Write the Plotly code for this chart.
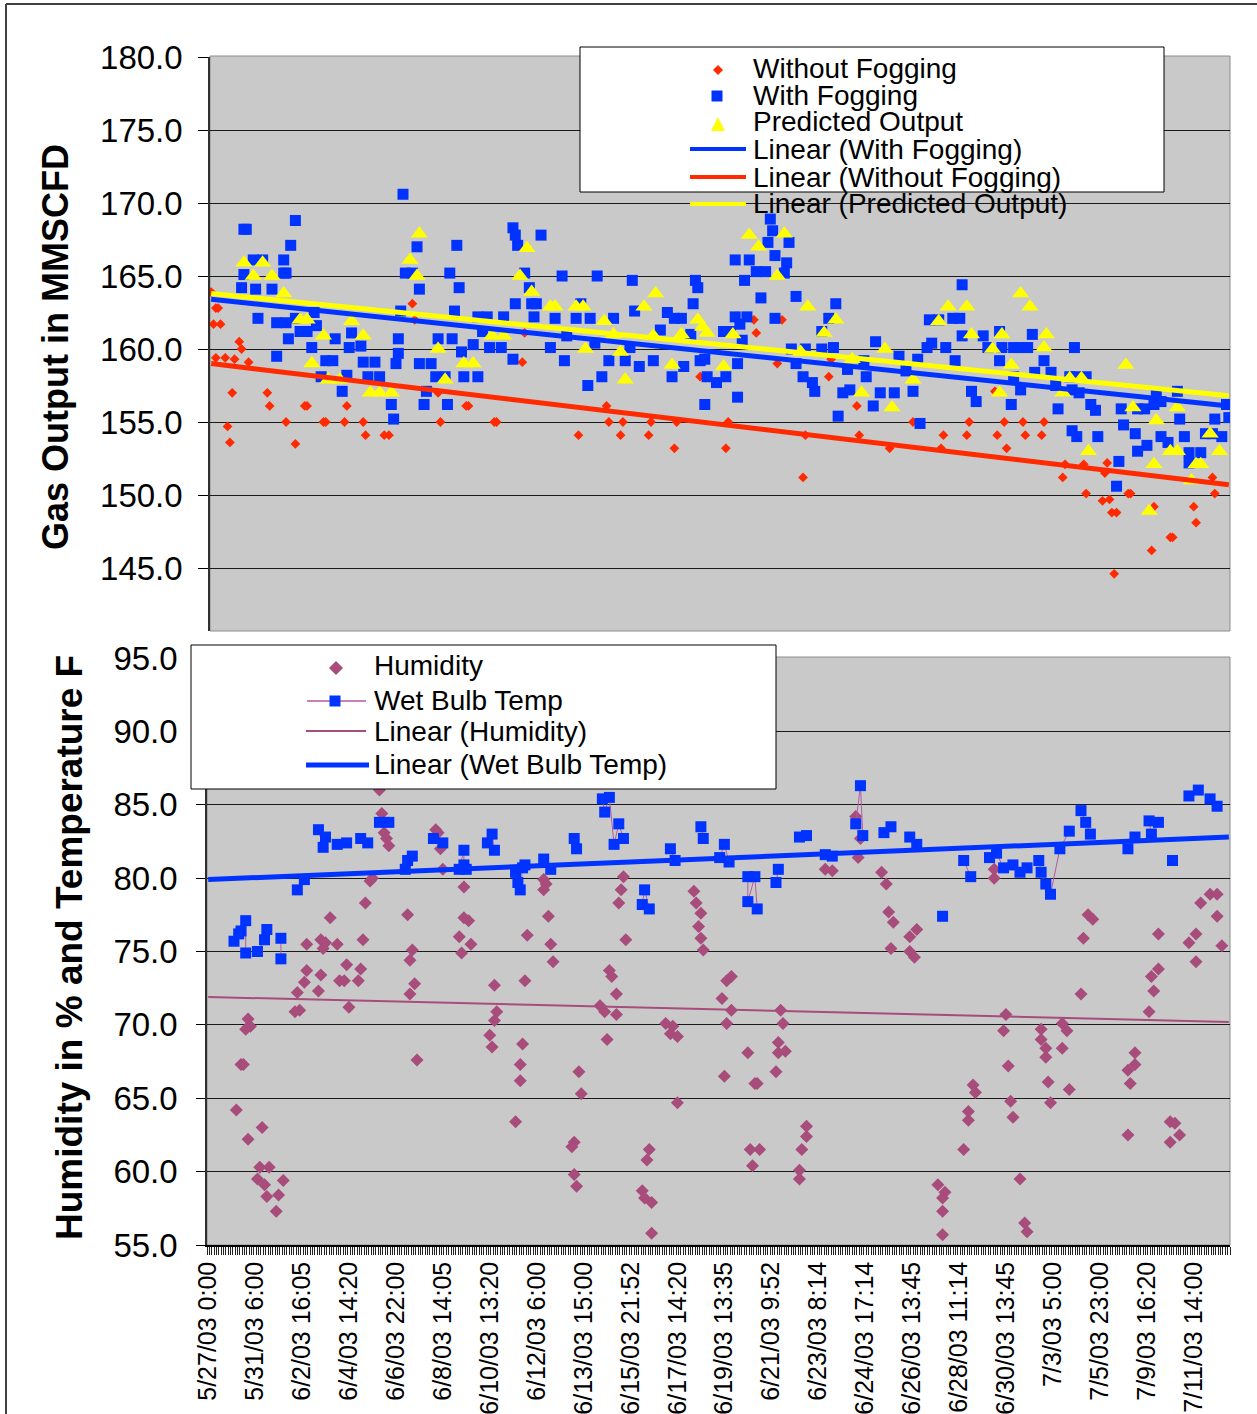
import plotly.graph_objects as go

W, H = 1257, 1414
FONT = "Liberation Sans, Arial, sans-serif"

# ---------------- data (category index, value) ----------------
x_labels = ["5/27/03 0:00", "5/31/03 6:00", "6/2/03 16:05", "6/4/03 14:20", "6/6/03 22:00",
            "6/8/03 14:05", "6/10/03 13:20", "6/12/03 6:00", "6/13/03 15:00", "6/15/03 21:52",
            "6/17/03 14:20", "6/19/03 13:35", "6/21/03 9:52", "6/23/03 8:14", "6/24/03 17:14",
            "6/26/03 13:45", "6/28/03 11:14", "6/30/03 13:45", "7/3/03 5:00", "7/5/03 23:00",
            "7/9/03 16:20", "7/11/03 14:00"]
n_categories = 436
label_step = 20

without_fogging = [
    (0, 163.9), (1, 161.7), (2, 162.8), (3, 162.8), (4, 161.7), (2, 159.4), (6, 159.4), (10, 159.3),
    (12, 160.5), (13, 160.0), (16, 159.1), (9, 157.0), (24, 157.0), (25, 156.1), (7, 154.7), (8, 153.6),
    (32, 155.0), (36, 153.5), (40, 156.1), (41, 156.1), (48, 155.0), (49, 155.0), (57, 155.0), (58, 156.1),
    (65, 155.0), (66, 154.1), (74, 154.1), (76, 154.1), (86, 163.1), (87, 162.0), (97, 157.0), (98, 155.0),
    (109, 156.1), (110, 156.1), (121, 155.0), (122, 155.0), (133, 159.1), (134, 161.1), (157, 154.1),
    (169, 156.1), (170, 155.0), (176, 155.0), (175, 154.1), (187, 154.1), (188, 155.0), (198, 153.2),
    (199, 155.0), (209, 158.1), (232, 162.0), (233, 161.1), (244, 162.0), (242, 159.0), (221, 155.0),
    (220, 153.2), (253, 151.2), (254, 154.1), (264, 158.1), (265, 159.3), (276, 156.1), (277, 154.1),
    (290, 153.2), (300, 155.0), (313, 154.1), (312, 153.2), (323, 154.1), (324, 155.0), (335, 157.1),
    (336, 154.1), (340, 153.2), (339, 155.0), (347, 155.0), (348, 154.1), (355, 154.1), (356, 155.0),
    (364, 151.2), (365, 152.1), (373, 152.1), (374, 150.1), (381, 149.6), (384, 149.7), (383, 152.2),
    (382, 151.5), (385, 148.8), (387, 148.8), (386, 144.6), (392, 150.1), (393, 150.1), (402, 146.2),
    (403, 149.2), (410, 147.1), (411, 147.1), (420, 149.2), (421, 148.1), (428, 151.2), (429, 150.1)]

with_fogging = [
    (82, 170.6), (14, 168.2), (15, 168.2), (36, 168.8), (34, 167.1), (31, 166.1), (18, 166.1), (22, 166.1),
    (14, 165.1), (31, 165.2), (32, 165.2), (13, 164.2), (19, 164.1), (26, 164.1), (20, 162.1), (28, 161.8),
    (32, 161.8), (36, 162.1), (44, 162.5), (33, 160.7), (38, 161.2), (41, 161.2), (45, 161.6), (43, 160.1),
    (28, 159.5), (53, 160.7), (60, 161.1), (59, 160.1), (64, 160.2), (49, 159.2), (52, 159.2), (47, 158.1),
    (58, 158.2), (56, 157.1), (65, 159.1), (70, 159.1), (67, 158.1), (72, 158.1), (77, 156.2), (78, 155.2),
    (80, 159.7), (79, 159.0), (80, 160.7), (81, 162.6), (83, 165.2), (86, 165.2), (88, 167.0), (89, 164.1),
    (97, 160.7), (89, 159.0), (94, 159.0), (96, 158.1), (100, 158.1), (92, 157.1), (91, 156.2), (101, 156.2),
    (102, 165.2), (106, 164.2), (105, 167.1), (104, 162.6), (103, 160.7), (107, 159.8), (108, 158.1),
    (114, 158.1), (112, 160.3), (114, 162.2), (118, 162.2), (116, 161.2), (119, 160.1), (124, 160.1),
    (125, 162.2), (129, 168.3), (130, 167.8), (131, 167.1), (141, 167.8), (134, 165.2), (136, 164.2),
    (130, 163.1), (137, 163.1), (139, 163.1), (138, 162.2), (129, 159.3), (145, 160.1), (147, 162.1),
    (150, 165.0), (151, 159.2), (158, 163.1), (156, 162.1), (162, 162.1), (152, 160.9), (164, 160.4),
    (165, 165.0), (172, 162.1), (170, 159.2), (167, 158.1), (161, 157.5), (181, 162.6), (180, 164.7),
    (179, 160.1), (177, 159.2), (183, 158.8), (189, 159.2), (192, 161.3), (195, 162.5), (198, 162.1),
    (201, 162.1), (197, 158.1), (202, 158.8), (205, 161.0), (207, 164.7), (208, 164.2), (206, 163.1),
    (209, 159.2), (239, 168.9), (240, 168.1), (238, 167.3), (247, 167.3), (224, 166.1), (230, 166.1),
    (241, 166.4), (246, 165.9), (233, 165.3), (237, 165.3), (245, 165.2), (228, 164.7), (235, 163.5),
    (250, 163.6), (267, 163.1), (241, 162.1), (224, 162.2), (229, 162.2), (226, 161.7), (222, 161.2),
    (227, 160.6), (211, 159.3), (212, 158.1), (216, 157.7), (219, 161.2), (220, 158.1), (225, 159.0),
    (211, 156.2), (225, 156.7), (248, 160.0), (254, 160.0), (261, 160.0), (264, 162.1), (266, 160.1),
    (261, 161.2), (250, 159.0), (253, 158.1), (257, 157.7), (258, 157.1), (268, 155.4), (270, 157.0),
    (273, 157.2), (272, 158.6), (279, 159.2), (280, 158.1), (283, 156.1), (284, 160.5), (286, 157.0),
    (292, 157.0), (294, 159.5), (297, 158.5), (300, 157.1), (303, 154.9), (306, 160.1), (308, 160.4),
    (302, 159.3), (307, 162.0), (311, 162.0), (317, 162.1), (320, 162.1), (314, 160.1), (318, 159.2),
    (321, 160.9), (321, 164.4), (325, 157.1), (327, 156.4), (330, 160.9), (332, 160.1), (337, 161.2),
    (338, 160.1), (343, 160.1), (337, 159.2), (343, 158.1), (346, 157.2), (342, 156.2), (346, 160.1),
    (349, 160.1), (351, 161.0), (356, 159.2), (352, 158.4), (359, 158.4), (361, 157.5), (362, 155.9),
    (367, 158.1), (370, 158.1), (374, 158.1), (369, 160.1), (368, 157.2), (371, 157.0), (368, 154.4),
    (370, 154.0), (376, 156.2), (378, 155.8), (379, 154.0), (389, 155.9), (396, 155.9), (399, 155.9),
    (390, 154.8), (395, 154.2), (388, 152.3), (387, 150.6), (396, 153.0), (400, 153.4), (403, 156.2),
    (406, 156.4), (404, 157.0), (406, 154.0), (409, 153.6), (413, 157.1), (414, 155.2), (416, 154.0),
    (418, 152.9), (418, 152.2), (423, 152.9), (425, 154.2), (428, 154.2), (429, 155.2), (435, 155.3),
    (432, 154.0), (434, 156.2)]

predicted_output = [
    (14, 165.9), (22, 165.9), (18, 165.0), (26, 165.0), (31, 163.8), (38, 162.0), (41, 162.0), (48, 160.9),
    (43, 159.0), (60, 161.9), (65, 160.9), (50, 157.9), (55, 157.9), (68, 157.0), (72, 157.0), (77, 157.0),
    (89, 167.9), (85, 166.1), (88, 165.0), (97, 160.0), (100, 157.9), (108, 159.0), (112, 159.0),
    (120, 160.9), (125, 160.9), (135, 166.9), (132, 165.0), (137, 163.9), (145, 162.9), (147, 162.9),
    (156, 162.9), (159, 162.9), (160, 160.0), (168, 161.9), (172, 161.0), (175, 159.8), (177, 157.9),
    (185, 162.9), (190, 163.8), (189, 160.9), (197, 158.9), (201, 161.0), (208, 162.0), (230, 167.8),
    (245, 167.9), (234, 167.0), (242, 165.0), (255, 162.9), (210, 161.5), (212, 161.1), (223, 161.0),
    (219, 158.8), (267, 162.0), (262, 161.1), (252, 159.8), (274, 159.3), (278, 157.0), (288, 160.0),
    (291, 156.0), (300, 157.9), (311, 161.9), (315, 162.9), (323, 162.9), (325, 161.0), (334, 160.0),
    (338, 161.0), (337, 157.0), (342, 158.9), (346, 163.8), (350, 162.9), (356, 160.1), (357, 161.0),
    (364, 157.0), (367, 158.0), (372, 158.0), (375, 153.0), (391, 158.9), (394, 156.0), (404, 155.1),
    (403, 152.1), (401, 148.9), (410, 153.0), (413, 153.0), (413, 156.0), (419, 151.0), (421, 152.1),
    (423, 152.1), (427, 154.2), (431, 153.0)]

humidity = [
    (73, 86.0), (74, 84.4), (75, 83.1), (76, 82.7), (77, 82.2), (97, 83.3), (98, 83.1), (99, 82.0),
    (100, 80.6), (69, 79.8), (70, 80.0), (67, 78.3), (85, 77.5), (66, 75.8), (52, 77.3), (42, 75.5),
    (48, 75.8), (50, 75.6), (49, 75.2), (55, 75.5), (42, 73.7), (41, 72.9), (38, 72.2), (39, 71.0),
    (37, 70.9), (48, 73.4), (47, 72.3), (59, 74.1), (56, 73.0), (58, 73.0), (65, 73.8), (64, 73.0),
    (60, 71.2), (87, 75.1), (86, 74.4), (88, 72.8), (86, 72.1), (89, 67.6), (17, 70.4), (16, 69.7),
    (18, 69.9), (14, 67.3), (15, 67.3), (12, 64.2), (17, 62.2), (23, 63.0), (22, 60.3), (26, 60.3),
    (21, 59.5), (24, 59.1), (25, 58.3), (30, 58.4), (32, 59.4), (29, 57.3), (109, 79.4), (109, 77.3),
    (111, 77.1), (107, 76.0), (112, 75.5), (108, 74.9), (122, 72.7), (123, 70.9), (122, 70.3), (120, 69.3),
    (121, 68.5), (136, 76.1), (135, 73.0), (134, 68.7), (133, 67.3), (133, 66.2), (131, 63.4), (143, 79.9),
    (144, 79.6), (143, 79.2), (145, 77.4), (146, 75.5), (147, 74.3), (158, 66.8), (159, 65.3), (156, 62.0),
    (155, 61.7), (156, 59.8), (157, 59.0), (177, 80.1), (176, 79.2), (175, 78.3), (178, 75.8), (171, 73.7),
    (172, 73.3), (174, 72.1), (167, 71.3), (169, 70.9), (174, 70.7), (170, 69.0), (188, 61.5), (187, 60.8),
    (185, 58.7), (186, 58.2), (189, 57.9), (189, 55.8), (195, 70.1), (198, 69.9), (197, 69.4), (200, 69.2),
    (200, 64.7), (207, 79.1), (208, 78.3), (210, 77.6), (209, 76.7), (210, 75.9), (211, 75.1), (223, 73.3),
    (221, 73.0), (219, 71.8), (223, 71.0), (221, 70.1), (230, 68.1), (220, 66.5), (233, 66.0), (234, 66.0),
    (231, 61.5), (235, 61.5), (232, 60.4), (244, 71.0), (245, 70.1), (243, 68.8), (246, 68.2), (243, 68.1),
    (242, 66.8), (255, 63.1), (255, 62.4), (253, 61.5), (252, 60.1), (252, 59.5), (263, 80.6), (266, 80.5),
    (276, 84.2), (278, 82.7), (277, 81.4), (287, 80.4), (289, 79.6), (290, 77.7), (292, 77.0), (291, 75.2),
    (299, 76.0), (302, 76.5), (299, 75.0), (301, 74.6), (311, 59.1), (314, 58.6), (313, 58.2), (313, 57.3),
    (313, 55.7), (322, 61.5), (326, 65.9), (327, 65.4), (324, 64.1), (324, 63.5), (335, 80.6), (335, 80.0),
    (340, 70.7), (339, 69.6), (341, 67.2), (342, 64.8), (343, 63.7), (346, 59.5), (348, 56.5), (349, 55.9),
    (355, 69.7), (355, 69.0), (357, 68.4), (357, 67.8), (358, 66.1), (359, 64.7), (364, 70.1), (366, 69.6),
    (364, 68.4), (367, 65.6), (372, 72.1), (373, 75.9), (375, 77.5), (377, 77.2), (392, 66.9), (395, 67.3),
    (395, 68.1), (393, 66.0), (392, 62.5), (401, 70.9), (403, 72.3), (402, 73.3), (405, 73.8), (405, 76.2),
    (410, 63.4), (412, 63.3), (410, 62.0), (414, 62.5), (418, 75.6), (421, 76.2), (421, 74.3), (423, 78.3),
    (427, 78.9), (430, 78.9), (430, 77.4), (432, 75.4)]

wet_bulb = [
    (11, 75.7), (13, 76.2), (14, 76.4), (16, 77.1), (16, 74.9), (21, 75.0), (24, 75.8), (25, 76.5),
    (31, 75.9), (31, 74.5), (38, 79.2), (41, 79.9), (47, 83.3), (49, 82.1), (50, 82.8), (55, 82.3),
    (59, 82.4), (65, 82.7), (68, 82.4), (73, 83.8), (77, 83.8), (84, 80.6), (85, 81.2), (87, 81.5),
    (96, 82.7), (100, 82.4), (107, 80.6), (109, 81.9), (109, 80.9), (110, 80.6), (119, 82.4), (121, 83.0),
    (122, 81.9), (131, 80.4), (132, 79.7), (133, 79.2), (134, 80.7), (135, 80.9), (143, 81.3), (146, 80.6),
    (156, 82.7), (157, 82.0), (168, 85.4), (169, 84.5), (171, 85.5), (173, 82.3), (175, 83.7), (177, 82.7),
    (185, 78.2), (186, 79.2), (188, 77.9), (197, 82.0), (199, 81.2), (210, 83.5), (211, 82.7), (218, 81.4),
    (220, 82.3), (222, 81.1), (230, 80.1), (230, 78.4), (233, 80.1), (234, 77.9), (242, 79.7), (243, 80.6),
    (252, 82.8), (255, 82.9), (263, 81.6), (266, 81.5), (276, 83.7), (278, 86.3), (279, 82.9), (288, 83.1),
    (291, 83.5), (299, 82.8), (302, 82.3), (313, 77.4), (322, 81.2), (325, 80.1), (333, 81.4), (336, 81.7),
    (339, 80.7), (343, 80.9), (346, 80.4), (349, 80.7), (354, 81.2), (355, 80.4), (357, 79.6), (359, 78.9),
    (363, 82.0), (367, 83.2), (372, 84.6), (374, 83.8), (376, 83.0), (392, 82.0), (395, 82.8), (401, 83.9),
    (402, 83.0), (405, 83.8), (411, 81.2), (418, 85.6), (422, 86.0), (427, 85.4), (430, 84.9)]

# Excel linear trendlines (value at first and last category)
trend_with_fogging = (163.4, 156.1)
trend_without_fogging = (159.0, 150.7)
trend_predicted = (163.8, 156.8)
trend_humidity = (71.9, 70.2)
trend_wet_bulb = (79.9, 82.8)

# ---------------- colours ----------------
RED = "#FF2A00"
BLUE = "#0033FF"
YELLOW = "#FFFF00"
HUM = "#A84C7C"
WBLINE = "#B45AA0"
PLOTBG = "#C9C9C9"


def px(x):
    return x / W


def py(y):
    return 1 - y / H


def xy(points):
    return [p[0] for p in points], [p[1] for p in points]


trend_x = [0, n_categories - 1]

fig = go.Figure()

# ---- top chart (x2, y2)
for pts, sym, size, col in [(without_fogging, "diamond", 7.5, RED),
                            (with_fogging, "square", 11, BLUE),
                            (predicted_output, "triangle-up", 15, YELLOW)]:
    x, y = xy(pts)
    fig.add_trace(go.Scatter(x=x, y=y, mode="markers", xaxis="x2", yaxis="y2",
                             marker=dict(symbol=sym, size=size, color=col, line=dict(width=0)),
                             showlegend=False))
for tr, col in [(trend_with_fogging, BLUE), (trend_without_fogging, RED), (trend_predicted, YELLOW)]:
    fig.add_trace(go.Scatter(x=trend_x, y=list(tr), mode="lines", xaxis="x2", yaxis="y2",
                             line=dict(color=col, width=5), showlegend=False))

# ---- bottom chart (x, y)
hx, hy = xy(humidity)
fig.add_trace(go.Scatter(x=hx, y=hy, mode="markers",
                         marker=dict(symbol="diamond", size=10, color=HUM, line=dict(width=0)),
                         showlegend=False))
wb_sorted = sorted(wet_bulb, key=lambda p: p[0])
wbx, wby = [], []
prev = None
for i, v in wb_sorted:
    if prev is not None and i - prev > 4:
        wbx.append(None)
        wby.append(None)
    wbx.append(i)
    wby.append(v)
    prev = i
fig.add_trace(go.Scatter(x=wbx, y=wby, mode="lines+markers", connectgaps=False,
                         line=dict(color=WBLINE, width=1),
                         marker=dict(symbol="square", size=11, color=BLUE, line=dict(width=0)),
                         showlegend=False))
fig.add_trace(go.Scatter(x=trend_x, y=list(trend_humidity), mode="lines",
                         line=dict(color=HUM, width=2), showlegend=False))
fig.add_trace(go.Scatter(x=trend_x, y=list(trend_wet_bulb), mode="lines",
                         line=dict(color=BLUE, width=5), showlegend=False))

# ---------------- shapes ----------------
shapes = []
shapes.append(dict(type="rect", xref="paper", yref="paper", layer="below",
                   x0=px(210), x1=px(1230), y0=py(631), y1=py(56),
                   fillcolor=PLOTBG, line=dict(color="#8C8C8C", width=1)))
shapes.append(dict(type="rect", xref="paper", yref="paper", layer="below",
                   x0=px(207), x1=px(1230), y0=py(1245), y1=py(657),
                   fillcolor=PLOTBG, line=dict(color="#8C8C8C", width=1)))
# outer frame (left and top edges)
shapes.append(dict(type="line", xref="paper", yref="paper", layer="above",
                   x0=px(6), x1=px(6), y0=0, y1=py(4), line=dict(color="#404040", width=2)))
shapes.append(dict(type="line", xref="paper", yref="paper", layer="above",
                   x0=px(6), x1=1, y0=py(4), y1=py(4), line=dict(color="#404040", width=2)))
# legend boxes
shapes.append(dict(type="rect", xref="paper", yref="paper", layer="above",
                   x0=px(580), x1=px(1164), y0=py(192), y1=py(47),
                   fillcolor="white", line=dict(color="black", width=1)))
shapes.append(dict(type="rect", xref="paper", yref="paper", layer="above",
                   x0=px(191), x1=px(776), y0=py(789), y1=py(645),
                   fillcolor="white", line=dict(color="black", width=1)))


def diamond(cx, cy, w, h, col):
    p = (f"M {px(cx)},{py(cy - h / 2)} L {px(cx + w / 2)},{py(cy)} "
         f"L {px(cx)},{py(cy + h / 2)} L {px(cx - w / 2)},{py(cy)} Z")
    return dict(type="path", path=p, xref="paper", yref="paper", layer="above",
                fillcolor=col, line=dict(width=0))


def square(cx, cy, s, col):
    return dict(type="rect", xref="paper", yref="paper", layer="above",
                x0=px(cx - s / 2), x1=px(cx + s / 2), y0=py(cy + s / 2), y1=py(cy - s / 2),
                fillcolor=col, line=dict(width=0))


def triangle(cx, cy, w, h, col):
    p = (f"M {px(cx - w / 2)},{py(cy + h / 2)} L {px(cx + w / 2)},{py(cy + h / 2)} "
         f"L {px(cx)},{py(cy - h / 2)} Z")
    return dict(type="path", path=p, xref="paper", yref="paper", layer="above",
                fillcolor=col, line=dict(width=0))


def hline(x0, x1, y, col, w):
    return dict(type="line", xref="paper", yref="paper", layer="above",
                x0=px(x0), x1=px(x1), y0=py(y), y1=py(y), line=dict(color=col, width=w))


shapes += [diamond(718, 70, 10, 10, RED), square(717, 96, 11, BLUE), triangle(718, 124, 14, 14, YELLOW),
           hline(690, 746, 149, BLUE, 4), hline(690, 746, 177, RED, 4), hline(690, 746, 204, YELLOW, 4)]
shapes += [diamond(336, 668, 14, 14, HUM), hline(307, 366, 701, WBLINE, 1.5), square(335, 701, 11, BLUE),
           hline(306, 366, 731, HUM, 2), hline(306, 369, 765, BLUE, 5)]

# ---------------- annotations ----------------
ann = []
top_legend = ["Without Fogging", "With Fogging", "Predicted Output", "Linear (With Fogging)",
              "Linear (Without Fogging)", "Linear (Predicted Output)"]
top_legend_y = [68, 95, 122, 149, 177, 204]
for t, yy in zip(top_legend, top_legend_y):
    ann.append(dict(text=t, x=px(751), y=py(yy), xref="paper", yref="paper", xanchor="left",
                    yanchor="middle", showarrow=False, font=dict(family=FONT, size=28, color="black")))
bot_legend = ["Humidity", "Wet Bulb Temp", "Linear (Humidity)", "Linear (Wet Bulb Temp)"]
bot_legend_y = [666, 700, 731, 764]
for t, yy in zip(bot_legend, bot_legend_y):
    ann.append(dict(text=t, x=px(372), y=py(yy), xref="paper", yref="paper", xanchor="left",
                    yanchor="middle", showarrow=False, font=dict(family=FONT, size=28, color="black")))
ann.append(dict(text="<b>Gas Output in MMSCFD</b>", x=px(55), y=py(347), xref="paper", yref="paper",
                textangle=-90, showarrow=False, xanchor="center", yanchor="middle",
                font=dict(family=FONT, size=36, color="black")))
ann.append(dict(text="<b>Humidity in % and Temperature F</b>", x=px(70), y=py(948), xref="paper",
                yref="paper", textangle=-90, showarrow=False, xanchor="center", yanchor="middle",
                font=dict(family=FONT, size=37, color="black")))

tick_font = dict(family=FONT, size=33, color="black")

fig.update_layout(
    width=W, height=H, margin=dict(l=0, r=0, t=0, b=0, pad=0, autoexpand=False),
    paper_bgcolor="white", plot_bgcolor="rgba(0,0,0,0)",
    showlegend=False, shapes=shapes, annotations=ann,
    xaxis=dict(domain=[px(207), px(1230)], range=[-0.5, n_categories - 0.5], anchor="y",
               automargin=False,
               tickmode="array", tickvals=[k * label_step for k in range(len(x_labels))],
               ticktext=x_labels, tickangle=-90, tickfont=dict(family=FONT, size=25, color="black"),
               ticks="",
               minor=dict(ticks="outside", ticklen=8, tickcolor="#222", tickwidth=1,
                          tickmode="linear", tick0=-0.5, dtick=1, showgrid=False),
               showline=True, linecolor="black", linewidth=1.5, showgrid=False, zeroline=False,
               ticklabelstandoff=5),
    yaxis=dict(domain=[py(1245), py(658)], range=[55, 95], anchor="x", automargin=False,
               tickmode="linear", tick0=55, dtick=5, tickformat=".1f", tickfont=tick_font,
               ticks="outside", ticklen=9, tickcolor="#000", showline=True, linecolor="#303030",
               linewidth=1.5, showgrid=True, gridcolor="#1a1a1a", gridwidth=1, zeroline=False,
               ticklabelstandoff=12),
    xaxis2=dict(domain=[px(210), px(1230)], range=[-0.5, n_categories - 0.5], anchor="y2",
                visible=False, automargin=False),
    yaxis2=dict(domain=[py(631), py(57)], range=[180 - (631 - 57) / 14.6, 180], anchor="x2",
                automargin=False,
                tickmode="array", tickvals=[145, 150, 155, 160, 165, 170, 175, 180],
                tickformat=".1f", tickfont=tick_font,
                ticks="outside", ticklen=10, tickcolor="#000", showline=True, linecolor="#303030",
                linewidth=1.5, showgrid=True, gridcolor="#1a1a1a", gridwidth=1, zeroline=False,
                ticklabelstandoff=9),
)

fig.write_html("out.html", config={"displayModeBar": False},
               post_script="document.body.style.margin='0px';document.body.style.overflow='hidden';")
